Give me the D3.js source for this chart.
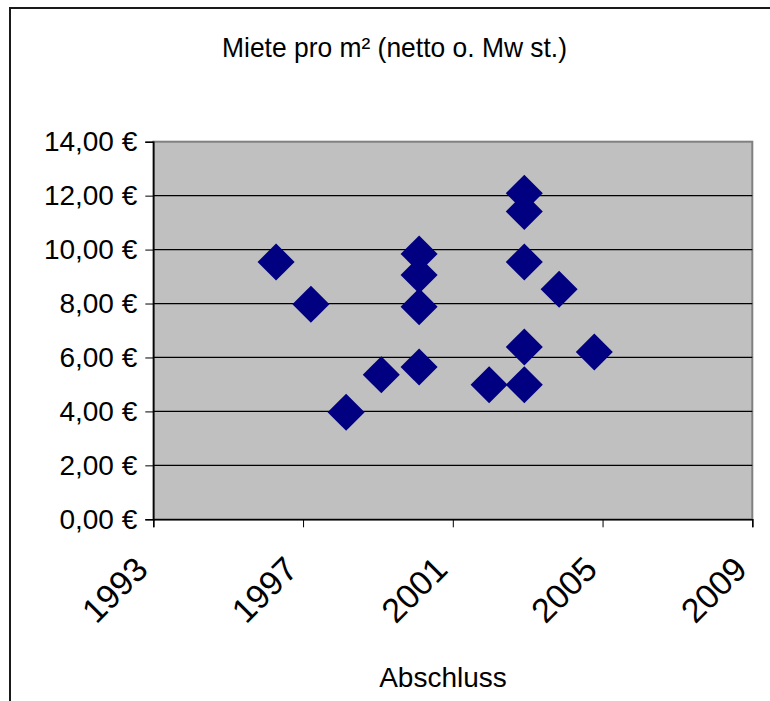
<!DOCTYPE html>
<html>
<head>
<meta charset="utf-8">
<script src="https://cdn.jsdelivr.net/npm/d3@7"></script>
<style>
  html, body { margin: 0; padding: 0; background: #fff; }
  svg { display: block; font-family: "Liberation Sans", Arial, sans-serif; }
</style>
</head>
<body>
<div id="chart"></div>
<script>
// Miete pro m² scatter.
const years = [1996.28, 1997.21, 1998.15, 1999.09, 2000.1, 2000.1, 2000.1, 2000.1,
  2002.91, 2002.91, 2002.91, 2003.84, 2002.91, 2001.97, 2002.91, 2004.78];
const rents = [9.54, 7.97, 3.97, 5.36, 9.84, 9.06, 7.88, 5.65,
  12.09, 11.41, 9.54, 8.53, 6.39, 4.99, 4.99, 6.20];
const xTicks = [1993, 1997, 2001, 2005, 2009];
const yTicks = [0, 2, 4, 6, 8, 10, 12, 14];
const title = 'Miete pro m² (netto o. Mw st.)';
const xTitle = 'Abschluss';

const width = 770, height = 701;
const margin = { top: 141.7, left: 153.3 };
const innerW = 599, innerH = 377.6;

const svg = d3.select('#chart').append('svg')
  .attr('width', width).attr('height', height);

// outer chart frame (only top/left edges are inside the picture)
svg.append('rect')
  .attr('x', 10).attr('y', 8).attr('width', 900).attr('height', 900)
  .attr('fill', 'none').attr('stroke', '#1a1a1a').attr('stroke-width', 2);

// Excel draws the title a bit narrow and tall
svg.append('text')
  .attr('x', 394.5).attr('y', 57)
  .attr('text-anchor', 'middle').attr('font-size', 28)
  .attr('textLength', 345).attr('lengthAdjust', 'spacingAndGlyphs')
  .text(title);

const g = svg.append('g').attr('transform', `translate(${margin.left},${margin.top})`);

const x = d3.scaleLinear().domain([1993, 2009]).range([0, innerW]);
const y = d3.scaleLinear().domain([0, 14]).range([innerH, 0]);

g.append('rect')
  .attr('width', innerW).attr('height', innerH)
  .attr('fill', '#c0c0c0').attr('stroke', '#808080').attr('stroke-width', 2);

// gridlines
g.append('g').selectAll('line')
  .data(yTicks.filter(t => t > 0 && t < 14))
  .join('line')
    .attr('x1', 0).attr('x2', innerW)
    .attr('y1', d => y(d)).attr('y2', d => y(d))
    .attr('stroke', '#000').attr('stroke-width', 1.2);

const yAxis = g.append('g')
  .call(d3.axisLeft(y).tickValues(yTicks).tickSize(8).tickPadding(8)
    .tickFormat(d => d.toFixed(2).replace('.', ',') + ' €'));
yAxis.select('.domain').attr('stroke', '#000').attr('stroke-width', 1.5);
yAxis.selectAll('text').attr('font-size', 28).attr('fill', '#000')
  .attr('font-family', '"Liberation Sans", Arial, sans-serif');

const xAxis = g.append('g').attr('transform', `translate(0,${innerH})`)
  .call(d3.axisBottom(x).tickValues(xTicks).tickSize(8).tickFormat(d3.format('d')));
xAxis.select('.domain').attr('stroke', '#000').attr('stroke-width', 1.5);
xAxis.selectAll('text')
  .attr('font-size', 34).attr('fill', '#000')
  .attr('font-family', '"Liberation Sans", Arial, sans-serif')
  .attr('text-anchor', 'end')
  .attr('dy', 0).attr('y', 0)
  .attr('transform', 'translate(-4,52) rotate(-45)');

svg.append('text')
  .attr('x', 443).attr('y', 687)
  .attr('text-anchor', 'middle').attr('font-size', 28)
  .text(xTitle);

const diamond = d3.symbol(d3.symbolSquare, 686);
g.append('g').selectAll('path')
  .data(years.map((yr, i) => [yr, rents[i]]))
  .join('path')
    .attr('d', diamond)
    .attr('transform', d => `translate(${x(d[0])},${y(d[1])}) rotate(45)`)
    .attr('fill', '#000080');
</script>
</body>
</html>
